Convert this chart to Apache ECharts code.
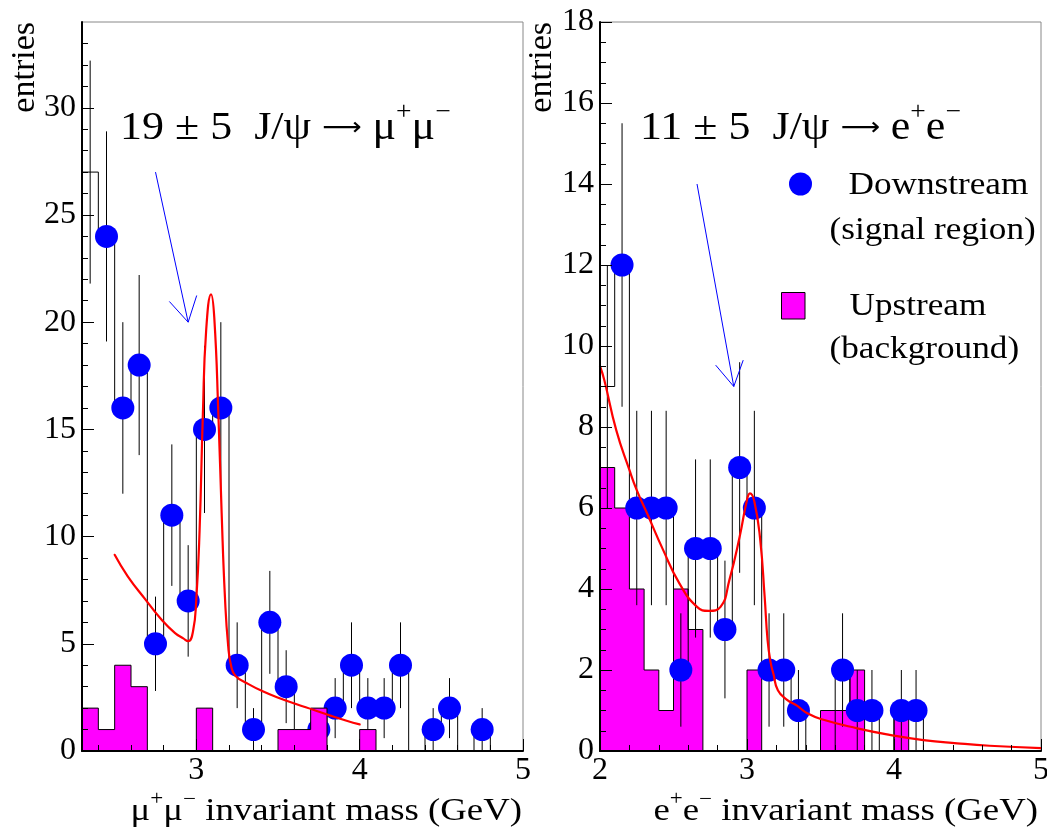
<!DOCTYPE html>
<html>
<head>
<meta charset="utf-8">
<script src="https://cdn.jsdelivr.net/npm/echarts@6/dist/echarts.min.js"></script>
<style>html,body{margin:0;padding:0;background:#fff}#c{width:1047px;height:834px}</style>
</head>
<body>
<div id="c"></div>
<script>
// ---------- data: mu+mu- panel ----------
const muMass = [2.35,2.45,2.55,2.65,2.75,2.85,2.95,3.05,3.15,3.25,3.35,3.45,3.55,3.65,3.75,3.85,3.95,4.05,4.15,4.25,4.35,4.45,4.55,4.65,4.75,4.85,4.95];
const muDown = [27,24,16,18,5,11,7,15,16,4,1,6,3,0,1,2,4,2,2,4,0,1,2,0,1,0,0];
const muErr  = [5.2,4.9,4.0,4.2,2.2,3.3,2.6,3.9,4.0,2.0,1.0,2.4,1.7,0,1.0,1.4,2.0,1.4,1.4,2.0,0,1.0,1.4,0,1.0,0,0];
const muUp   = [2,1,4,3,0,0,0,2,0,0,0,0,1,1,2,0,0,1,0,0,0,0,0,0,0,0,0];
const muFitX = [2.50,2.58,2.69,2.79,2.87,2.92,2.95,2.98,3.00,3.02,3.04,3.06,3.09,3.11,3.135,3.155,3.175,3.195,3.215,3.24,3.31,3.41,3.51,3.61,3.72,3.82,3.92,4.00];
const muFitY = [9.15,8.15,7.05,6.10,5.50,5.25,5.12,5.60,7.10,10.3,15.7,19.6,21.3,20.2,15.7,11.1,7.2,4.9,3.9,3.5,3.16,2.77,2.46,2.19,1.91,1.65,1.41,1.24];
const muArrow = [2.75, 27, 2.95, 20];
const muXMajor = [3,4,5];
const muXMinor = [2.4,2.6,2.8,3.2,3.4,3.6,3.8,4.2,4.4,4.6,4.8];
const muYMajor = [0,5,10,15,20,25,30];
const muYMinor = [1,2,3,4,6,7,8,9,11,12,13,14,16,17,18,19,21,22,23,24,26,27,28,29,31,32,33];

// ---------- data: e+e- panel ----------
const eeMass = [2.05,2.15,2.25,2.35,2.45,2.55,2.65,2.75,2.85,2.95,3.05,3.15,3.25,3.35,3.45,3.55,3.65,3.75,3.85,3.95,4.05,4.15,4.25,4.35,4.45,4.55,4.65,4.75,4.85,4.95];
const eeDown = [9,12,6,6,6,2,5,5,3,7,6,2,2,1,0,0,2,1,1,0,1,1,0,0,0,0,0,0,0,0];
const eeErr  = [3.0,3.5,2.4,2.4,2.4,1.4,2.2,2.2,1.7,2.6,2.4,1.4,1.4,1.0,0,0,1.4,1.0,1.0,0,1.0,1.0,0,0,0,0,0,0,0,0];
const eeUp   = [7,6,4,2,1,4,3,0,0,0,2,0,0,0,0,1,1,2,0,0,1,0,0,0,0,0,0,0,0,0];
const eeFitX = [2.00,2.03,2.11,2.20,2.25,2.32,2.43,2.54,2.66,2.74,2.82,2.88,2.95,3.00,3.02,3.05,3.09,3.12,3.14,3.16,3.18,3.21,3.27,3.34,3.41,3.52,3.75,3.97,4.20,4.43,4.65,5.00];
const eeFitY = [9.50,9.15,7.93,6.94,6.44,5.87,4.96,4.14,3.56,3.46,3.56,4.22,5.29,6.20,6.36,6.16,5.21,3.81,2.74,2.20,1.90,1.50,1.27,1.12,0.93,0.77,0.56,0.40,0.27,0.19,0.13,0.07];
const eeArrow = [2.66, 14, 2.91, 9];
const eeXMajor = [2,3,4,5];
const eeXMinor = [2.2,2.4,2.6,2.8,3.2,3.4,3.6,3.8,4.2,4.4,4.6,4.8];
const eeYMajor = [0,2,4,6,8,10,12,14,16,18];
const eeYMinor = [0.5,1,1.5,2.5,3,3.5,4.5,5,5.5,6.5,7,7.5,8.5,9,9.5,10.5,11,11.5,12.5,13,13.5,14.5,15,15.5,16.5,17,17.5];

const binHalf = 0.05;       // half bin width (GeV)
const firstMarkerBin = 1;   // first bin is drawn without a marker

// ---------- helpers ----------
const serif = '"Liberation Serif", "Times New Roman", serif';
function stepData(centers, vals) {
  const d = centers.map((c, i) => [+(c - binHalf).toFixed(3), vals[i]]);
  d.push([+(centers[centers.length - 1] + binHalf).toFixed(3), vals[vals.length - 1]]);
  return d;
}
function errData(centers, vals, errs) {
  const d = [];
  centers.forEach((c, i) => { if (errs[i] > 0) d.push([c, Math.max(0, vals[i] - errs[i]), vals[i] + errs[i]]); });
  return d;
}
function markerData(centers, vals) {
  const d = [];
  centers.forEach((c, i) => { if (i >= firstMarkerBin && vals[i] > 0) d.push([c, vals[i]]); });
  return d;
}
function errRender(params, api) {
  const p1 = api.coord([api.value(0), api.value(1)]);
  const p2 = api.coord([api.value(0), api.value(2)]);
  return {type: 'line', shape: {x1: p1[0], y1: p1[1], x2: p2[0], y2: p2[1]}, style: {stroke: '#000', lineWidth: 1}};
}
function arrowRender(params, api) {
  const p0 = api.coord([api.value(0), api.value(1)]);
  const p1 = api.coord([api.value(2), api.value(3)]);
  const dx = p0[0] - p1[0], dy = p0[1] - p1[1];
  const L = Math.hypot(dx, dy), ux = dx / L, uy = dy / L;
  const a = Math.PI / 6, h = 28, c = Math.cos(a), s = Math.sin(a);
  const w1 = [p1[0] + h * (ux * c - uy * s), p1[1] + h * (ux * s + uy * c)];
  const w2 = [p1[0] + h * (ux * c + uy * s), p1[1] + h * (-ux * s + uy * c)];
  return {type: 'group', children: [
    {type: 'line', shape: {x1: p0[0], y1: p0[1], x2: p1[0], y2: p1[1]}, style: {stroke: '#0000ff', lineWidth: 1}},
    {type: 'polyline', shape: {points: [w1, p1, w2]}, style: {stroke: '#0000ff', fill: null, lineWidth: 1}}
  ]};
}
function xAxes(grid, min, max, major, minor) {
  return [
    {gridIndex: grid, type: 'value', min: min, max: max, position: 'bottom', z: 10,
     axisLine: {show: true, onZero: false, lineStyle: {color: '#000', width: 2}},
     axisTick: {show: true, inside: true, length: 12, customValues: major, lineStyle: {color: '#000', width: 1}},
     axisLabel: {show: true, customValues: major, margin: 4, fontFamily: serif, fontSize: 32, color: '#000'},
     splitLine: {show: false}},
    {gridIndex: grid, type: 'value', min: min, max: max, position: 'bottom', z: 10,
     axisLine: {show: false, onZero: false},
     axisTick: {show: true, inside: true, length: 6, customValues: minor, lineStyle: {color: '#000', width: 1}},
     axisLabel: {show: false}, splitLine: {show: false}}
  ];
}
function yAxes(grid, min, max, major, minor) {
  return [
    {gridIndex: grid, type: 'value', min: min, max: max, position: 'left', z: 10,
     axisLine: {show: true, onZero: false, lineStyle: {color: '#000', width: 2}},
     axisTick: {show: true, inside: true, length: 12, customValues: major, lineStyle: {color: '#000', width: 1}},
     axisLabel: {show: true, customValues: major, margin: 6, fontFamily: serif, fontSize: 32, color: '#000'},
     splitLine: {show: false}},
    {gridIndex: grid, type: 'value', min: min, max: max, position: 'left', z: 10,
     axisLine: {show: false, onZero: false},
     axisTick: {show: true, inside: true, length: 6, customValues: minor, lineStyle: {color: '#000', width: 1}},
     axisLabel: {show: false}, splitLine: {show: false}}
  ];
}
function panelSeries(xi, yi, mass, down, err, up, fitX, fitY, arrow, upOnTop) {
  const zUp = upOnTop ? 6 : 2;
  const zs = upOnTop ? {step: 2, err: 3, mk: 4} : {step: 3, err: 4, mk: 5};
  return [
    {type: 'line', xAxisIndex: xi, yAxisIndex: yi, step: 'end', data: stepData(mass, up), symbol: 'none',
     lineStyle: {color: '#000', width: 1}, areaStyle: {color: '#ff00ff', opacity: 1}, z: zUp, silent: true},
    {type: 'line', xAxisIndex: xi, yAxisIndex: yi, step: 'end', data: stepData(mass, down), symbol: 'none',
     lineStyle: {color: '#000', width: 1}, z: zs.step, silent: true},
    {type: 'custom', xAxisIndex: xi, yAxisIndex: yi, data: errData(mass, down, err), renderItem: errRender, z: zs.err, silent: true},
    {type: 'scatter', xAxisIndex: xi, yAxisIndex: yi, data: markerData(mass, down), symbol: 'circle', symbolSize: 23,
     itemStyle: {color: '#0000ff', opacity: 1}, z: zs.mk, silent: true},
    {type: 'line', xAxisIndex: xi, yAxisIndex: yi, data: fitX.map((x, i) => [x, fitY[i]]), symbol: 'none',
     smooth: 0.5, sampling: null, lineStyle: {color: '#ff0000', width: 2.2, join: 'round', cap: 'round'}, z: 8, silent: true},
    {type: 'custom', xAxisIndex: xi, yAxisIndex: yi, data: [arrow], renderItem: arrowRender, z: 9, silent: true}
  ];
}

const richMain = (fs, lh) => ({fontSize: fs, lineHeight: lh, fontFamily: serif, fill: '#000'});
const richSup = (fs, lh) => ({fontSize: fs, lineHeight: lh, fontFamily: serif, fill: '#000', verticalAlign: 'top'});

function titleText(x, lead, particle) {
  return {type: 'text', x: x, y: 100, scaleX: 1.1, z: 20,
    style: {text: '{n|' + lead + '}{a|⟶}{n| ' + particle + '}{s|+}{n|' + particle + '}{s|−}',
      rich: {n: richMain(40, 56), s: richSup(25, 18),
             a: {fontSize: 25, lineHeight: 56, fontFamily: '"DejaVu Sans", sans-serif', fill: '#000'}},
      align: 'left', textAlign: 'left', verticalAlign: 'top', textVerticalAlign: 'top'}};
}
function axisTitle(xRight, p) {
  return {type: 'text', x: xRight, y: 790, scaleX: 1.15, z: 20,
    style: {text: '{n|' + p + '}{s|+}{n|' + p + '}{s|−}{n| invariant mass (GeV)}',
      rich: {n: richMain(32, 44), s: richSup(20, 16)},
      align: 'right', textAlign: 'right', verticalAlign: 'top', textVerticalAlign: 'top'}};
}
function plainText(x, y, text, fs, scaleX) {
  return {type: 'text', x: x, y: y, scaleX: scaleX, z: 20,
    style: {text: text, fontSize: fs, fontFamily: serif, fill: '#000',
      align: 'left', textAlign: 'left', verticalAlign: 'middle', textVerticalAlign: 'middle'}};
}
function entriesText(x) {
  return {type: 'text', x: x, y: 22, rotation: Math.PI / 2, z: 20,
    style: {text: 'entries', fontSize: 34, fontFamily: serif, fill: '#000',
      align: 'right', textAlign: 'right', verticalAlign: 'middle', textVerticalAlign: 'middle'}};
}

const chart = echarts.init(document.getElementById('c'), null, {renderer: 'canvas'});
chart.setOption({
  animation: false,
  backgroundColor: '#fff',
  grid: [
    {left: 82, top: 22, width: 441, height: 729, show: true, borderColor: '#888', borderWidth: 1, backgroundColor: 'transparent', containLabel: false, outerBoundsMode: 'none'},
    {left: 600, top: 22, width: 441, height: 729, show: true, borderColor: '#888', borderWidth: 1, backgroundColor: 'transparent', containLabel: false, outerBoundsMode: 'none'}
  ],
  xAxis: [].concat(xAxes(0, 2.3, 5, muXMajor, muXMinor), xAxes(1, 2, 5, eeXMajor, eeXMinor)),
  yAxis: [].concat(yAxes(0, 0, 34, muYMajor, muYMinor), yAxes(1, 0, 18, eeYMajor, eeYMinor)),
  series: [].concat(
    panelSeries(0, 0, muMass, muDown, muErr, muUp, muFitX, muFitY, muArrow, true),
    panelSeries(2, 2, eeMass, eeDown, eeErr, eeUp, eeFitX, eeFitY, eeArrow, false)
  ),
  graphic: [
    titleText(120, '19 ± 5  J/ψ ', 'μ'),
    titleText(640, '11 ± 5  J/ψ ', 'e'),
    axisTitle(522, 'μ'),
    axisTitle(1038, 'e'),
    entriesText(25.5),
    entriesText(542.5),
    {type: 'circle', z: 20, shape: {cx: 800.5, cy: 184, r: 11.5}, style: {fill: '#0000ff'}},
    {type: 'rect', z: 20, shape: {x: 781.5, y: 292.5, width: 23.5, height: 26.5}, style: {fill: '#ff00ff', stroke: '#000', lineWidth: 1}},
    plainText(848.5, 186, 'Downstream', 32, 1.1),
    plainText(829.5, 231, '(signal region)', 32, 1.1),
    plainText(849.5, 307, 'Upstream', 32, 1.1),
    plainText(829.5, 350, '(background)', 32, 1.1)
  ]
});
</script>
</body>
</html>
